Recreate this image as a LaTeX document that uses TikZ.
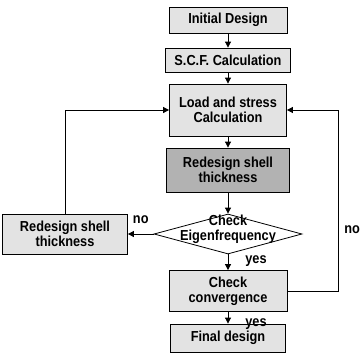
\documentclass[tikz,border=0pt]{standalone}
\usepackage{fontspec}
\setmainfont{Liberation Sans}[FakeStretch=0.88]
\usetikzlibrary{shapes.geometric,arrows.meta}
\begin{document}
\begin{tikzpicture}[x=1pt, y=-1pt, >={Triangle[length=6pt,width=6pt]},
        font=\fontsize{14.5}{15}\selectfont\bfseries, line width=0.8pt,
        box/.style={draw, fill=gray!22, inner sep=0pt, align=center},
        lbl/.style={inner sep=1pt}]
        \useasboundingbox (0,0) rectangle (360,364);

        \node[box, minimum width=118pt, minimum height=26pt] (init) at (228,20) {Initial Design};
        \node[box, minimum width=125pt, minimum height=24pt] (scf) at (228,60) {S.C.F. Calculation};
        \node[box, minimum width=117pt, minimum height=52pt] (load) at (228,110) {Load and stress\\Calculation};
        \node[box, fill=gray!60, minimum width=123pt, minimum height=44pt] (redes) at (228,170) {Redesign shell\\thickness};
        \node[draw, diamond, fill=white, inner sep=0pt, minimum width=148pt, minimum height=40pt] (check) at (228,234)
            {\makebox[0pt]{\smash{\begin{tabular}{@{}c@{}}Check\\[0pt]Eigenfrequency\end{tabular}}}};
        \node[box, minimum width=125pt, minimum height=40pt] (left) at (65,234) {Redesign shell\\thickness};
        \node[box, minimum width=118pt, minimum height=41pt] (conv) at (228,291) {Check\\convergence};
        \node[box, minimum width=115pt, minimum height=28pt] (final) at (228,338) {Final design};

        \coordinate (rt) at (338,110);

        \draw (init) -- (scf)[->];
        \draw (scf) -- (load)[->];
        \draw (load) -- (redes)[->];
        \draw (redes) -- (check)[->];

        \draw (check) -- (conv)[->] node[lbl, pos=0.4, right=16pt] {yes};
        \draw (conv) -- (final)[->] node[lbl, pos=0.75, right=16pt, yshift=-3pt] {yes};

        \draw (check) -- (left)[->] node[lbl, midway, above=9pt] {no};
        \draw (left) |- (load)[->];
        \draw (conv) -| (rt) node[lbl, pos=0.67, right=5pt] {no} -- (load)[->];
    \end{tikzpicture}
\end{document}
